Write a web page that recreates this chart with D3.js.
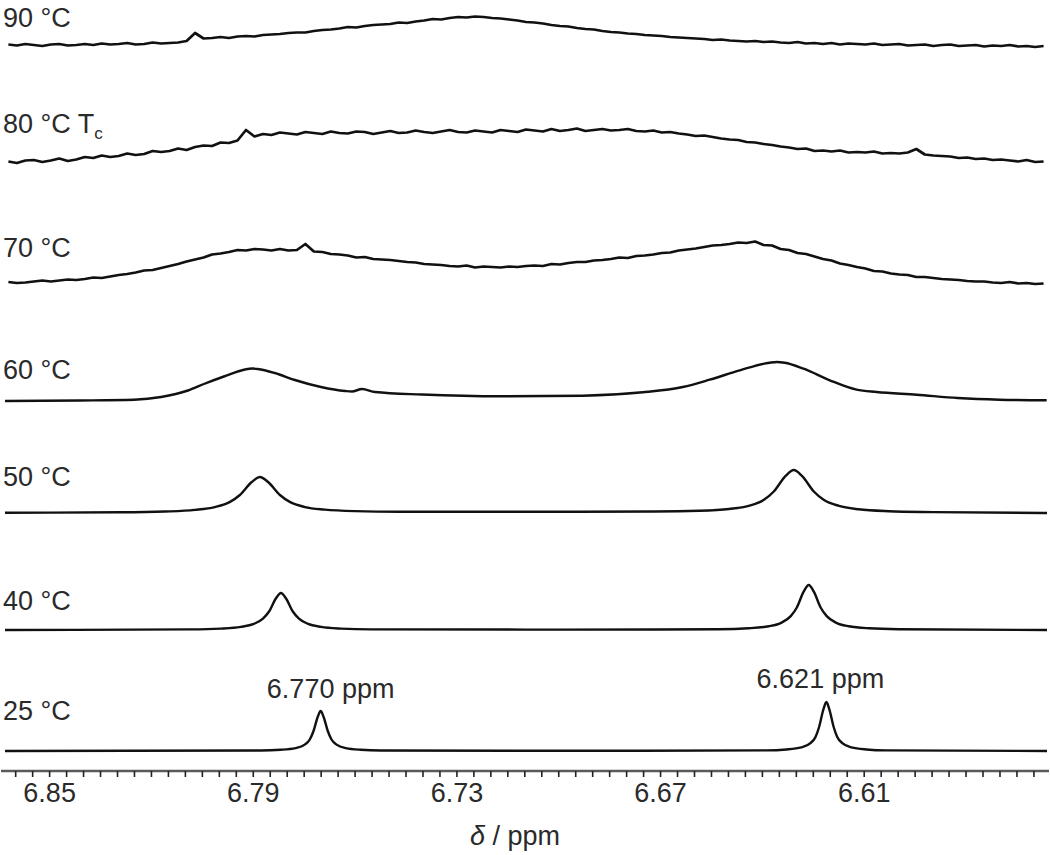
<!DOCTYPE html>
<html>
<head>
<meta charset="utf-8">
<script src="https://cdn.jsdelivr.net/npm/d3@7"></script>
<style>
  html, body { margin: 0; padding: 0; background: #fff; }
  svg { display: block; }
  text { font-family: "Liberation Sans", Arial, sans-serif; fill: #2a2a2a; }
</style>
</head>
<body>
<svg id="chart" width="1050" height="855"></svg>
<script>
// ---------------- DATA ----------------
// Temperatures (bottom to top) and labels
const temps = ["25 °C", "40 °C", "50 °C", "60 °C", "70 °C", "80 °C", "90 °C"];
// Vertical stacking offsets of each trace (intensity units)
const offsets = [20, 141, 258, 370, 488, 608, 726];

// Axis tick labels
const majorTicks = [6.85, 6.79, 6.73, 6.67, 6.61];
const ppmDomain = [6.863, 6.556];

// Peak annotations (25 °C)
const peakLabels = ["6.770 ppm", "6.621 ppm"];
const peakPositions = [6.770, 6.621];

// Smooth spectra: [ppm, intensity]
const spec25 = [
  [6.863,0],[6.7877,0.5],[6.7818,1.2],[6.7774,2.9],[6.7747,6.4],[6.7732,11.5],[6.7721,20],[6.7709,33.8],[6.7700,40],
  [6.7691,33.8],[6.7679,20],[6.7668,11.5],[6.7653,6.4],[6.7626,2.9],[6.7582,1.2],[6.7523,0.5],[6.70,0.2],
  [6.6387,0.6],[6.6328,1.5],[6.6284,3.6],[6.6257,7.9],[6.6242,14.1],[6.6231,24.5],[6.6219,41.4],[6.6210,49],
  [6.6201,41.4],[6.6189,24.5],[6.6178,14.1],[6.6163,7.9],[6.6136,3.6],[6.6092,1.5],[6.6033,0.6],[6.556,0]
];
const spec40 = [
  [6.863,0],[6.8082,0.6],[6.7994,1.4],[6.7935,3.1],[6.7897,6.1],[6.7870,11.4],[6.7852,18.5],[6.7832,31.5],[6.7817,37],
  [6.7802,31.5],[6.7782,18.5],[6.7764,11.4],[6.7737,6.1],[6.7699,3.1],[6.7640,1.4],[6.7552,0.6],[6.70,0.4],
  [6.6527,0.8],[6.6439,1.7],[6.6380,3.7],[6.6342,7.4],[6.6315,13.9],[6.6297,22.5],[6.6277,38.3],[6.6262,45],
  [6.6247,38.3],[6.6227,22.5],[6.6209,13.9],[6.6182,7.4],[6.6144,3.7],[6.6085,1.7],[6.5997,0.8],[6.556,0]
];
const spec50 = [
  [6.863,0.3],[6.8291,0.7],[6.8159,1.5],[6.8070,3.1],[6.8012,5.9],[6.7967,11.1],[6.7938,18],[6.7903,31],[6.7879,36],
  [6.7855,31],[6.7820,18],[6.7791,11.1],[6.7746,5.9],[6.7688,3.4],[6.7599,1.9],[6.7467,1.3],[6.71,1.2],
  [6.6718,1.5],[6.6586,2.2],[6.6497,4],[6.6439,7.1],[6.6394,13.2],[6.6365,21.5],[6.6330,37.1],[6.6306,43],
  [6.6282,37.1],[6.6247,21.5],[6.6218,13.2],[6.6173,7.1],[6.6115,3.7],[6.6026,1.8],[6.5894,0.9],[6.556,0]
];
const spec60 = [
  [6.8630,0],[6.8409,0.5],[6.8250,1.3],[6.8170,4],[6.8091,10.5],[6.8044,17],[6.7985,24.5],[6.7923,31.5],[6.7902,32.5],
  [6.7885,32],[6.7835,28],[6.7776,21],[6.7699,14],[6.7628,10],[6.7608,9.5],[6.7578,12],[6.7540,9],[6.7402,6.5],
  [6.7166,4.7],[6.6928,5.3],[6.6751,8.7],[6.6633,14],[6.6554,21.3],[6.6465,30.7],[6.6377,38.3],[6.6356,39],
  [6.6333,38.3],[6.6277,32.3],[6.6200,20.7],[6.6121,11.3],[6.6062,9],[6.5944,6.3],[6.5823,3],[6.5700,1.3],[6.5561,0.7]
];

// Noisy spectra sampled on a regular ppm grid
const gridStart = 6.862;
const gridStep = 0.0025;
const spec70 = [
  1,0,0.5,1.5,2.5,1.5,2.5,3.5,3,4,
  5.5,5,6.5,8,9,10.5,12.5,13,15,17,
  19,21.5,23.5,25.5,28.5,29.5,31,33,32.5,34,
  33.5,32.5,34,32.5,33,39,31.5,31,29,28.5,
  27.5,25.5,26,24,23.5,23,22,21,20.5,19,
  18.5,18,17,16.5,17.5,15.5,16.5,16,15.5,16.5,
  16,17,17.5,17,19,18.5,20,21,21,22.5,
  23,24,25.5,25,27,27.5,28.5,30,30.5,32.5,
  33.5,34.5,36,37.5,38,39,40.5,40,41.5,38,
  37.5,34,33,30,29,26.5,24,22.5,19.5,18,
  16,14.5,12,11.5,9.5,8.5,8,6,6,5,
  4,3.5,3,2,1.5,1.5,0.5,0,1,-0.5,
  0,-1,-0.5
];
const spec80 = [
  1.5,0,2.5,3,1,2.5,4.5,2,3.5,6,
  5,7.5,6,7,9.5,8,9,12,11,12,
  14.5,13,16,17.5,17,20.5,20,22.5,33,26.5,
  29,28,30.5,29.5,28.5,31,30,29,31.5,30,
  29.5,31.5,31,29,30.5,32,30,30.5,32.5,31,
  30,31.5,33,31,30.5,32.5,31.5,30.5,33,32,
  31,33.5,32.5,31.5,34,32,33,34.5,32,33,
  34,32.5,33,34,32,31.5,32.5,30.5,31,29.5,
  28.5,27,27.5,26,24.5,23.5,23,21,20.5,19,
  18,16.5,15.5,14,14.5,12,12.5,11.5,12.5,10.5,
  11,10.5,11.5,9.5,10,9.5,10.5,14,8.5,7.5,
  7,6.5,5,5.5,4,4.5,3,3.5,2.5,1.5,
  3,1,1.5
];
const spec90 = [
  0.5,-0.5,1,0,-1,0.5,1,-0.5,0,1,
  0,1.5,0.5,1,2,0.5,1,2.5,1.5,2,
  2.5,4,12,6.5,7,8,7,8.5,9,8.5,
  10,10.5,11,12,12.5,12.5,14,15,15.5,16.5,
  18,17.5,19,20,20.5,21,22.5,22,23.5,24.5,
  26,25.5,27,28,27.5,28.5,28,27,26.5,25.5,
  24.5,23,22.5,21.5,20,19,18.5,17,16,15.5,
  14,13,12.5,11.5,11,10,9.5,9,8,7.5,
  7,6.5,6,5,5.5,4.5,4,3.5,4,3,
  3.5,2.5,2,3,1.5,2,1,2,0.5,1.5,
  1,0.5,1.5,0,0.5,1,-0.5,0,0.5,-1,
  0,0.5,-1,-0.5,0,-1.5,-0.5,-1,0,-1.5,
  -1,-2,-1
];

// ---------------- DRAW ----------------
const svg = d3.select("#chart");

const x = d3.scaleLinear().domain(ppmDomain).range([5, 1047]);
const y = d3.scaleLinear().domain([0, 771]).range([771, 0]);

const gridToPairs = arr => arr.map((v, i) => [gridStart - i * gridStep, v]);

const series = [
  { data: spec25, smooth: true },
  { data: spec40, smooth: true },
  { data: spec50, smooth: true },
  { data: spec60, smooth: true },
  { data: gridToPairs(spec70), smooth: false },
  { data: gridToPairs(spec80), smooth: false },
  { data: gridToPairs(spec90), smooth: false }
];

series.forEach((s, k) => {
  const pts = s.data.slice().sort((a, b) => b[0] - a[0]);
  const line = d3.line()
    .x(d => x(d[0]))
    .y(d => y(offsets[k] + d[1]))
    .curve(s.smooth ? d3.curveMonotoneX : d3.curveLinear);
  svg.append("path")
    .datum(pts)
    .attr("d", line)
    .attr("fill", "none")
    .attr("stroke", "#111")
    .attr("stroke-width", s.smooth ? 2.4 : 2.7)
    .attr("stroke-linejoin", "round");
});

// Temperature labels
const labelDy = [31, 20, 27, 22, 26, 30, 18];
temps.forEach((t, k) => {
  const txt = svg.append("text")
    .attr("x", 3)
    .attr("y", y(offsets[k]) - labelDy[k])
    .attr("font-size", 27);
  txt.append("tspan").text(t);
  if (k === 5) {
    txt.append("tspan").text(" T");
    txt.append("tspan").text("c").attr("font-size", 17).attr("dy", 6);
  }
});

// Peak annotations
const peakLabelY = [698, 688];
peakLabels.forEach((p, i) => {
  svg.append("text")
    .attr("x", x(peakPositions[i]) + (i === 0 ? 10 : -6))
    .attr("y", peakLabelY[i])
    .attr("text-anchor", "middle")
    .attr("font-size", 27)
    .text(p);
});

// Axis
const minorTicks = d3.range(0, 61).map(i => +(6.860 - i * 0.005).toFixed(3));
const axisG = svg.append("g").attr("transform", "translate(0,771)");
axisG.call(d3.axisBottom(x).tickValues(minorTicks).tickSize(6).tickSizeOuter(0).tickFormat(""));
axisG.select(".domain").attr("stroke", "#5a5a5a").attr("stroke-width", 2.5).attr("d", "M1,0H1049");
axisG.selectAll(".tick line").attr("stroke", "#222").attr("stroke-width", 1.6);

const labG = svg.append("g").attr("transform", "translate(0,771)");
labG.call(d3.axisBottom(x).tickValues(majorTicks).tickSize(0).tickPadding(12).tickFormat(d3.format(".2f")));
labG.select(".domain").remove();
labG.selectAll(".tick text")
  .attr("font-size", 27)
  .attr("font-family", "Liberation Sans, Arial, sans-serif")
  .attr("fill", "#2a2a2a");

const xl = svg.append("text")
  .attr("x", 515)
  .attr("y", 845)
  .attr("text-anchor", "middle")
  .attr("font-size", 27);
xl.append("tspan").text("δ").attr("font-style", "italic");
xl.append("tspan").text(" / ppm");
</script>
</body>
</html>
